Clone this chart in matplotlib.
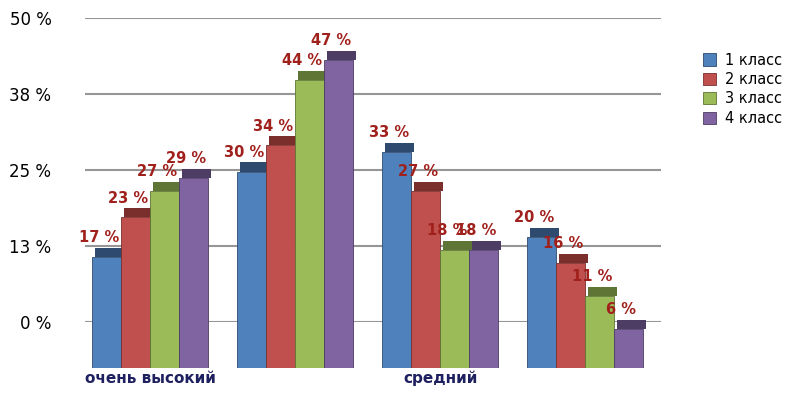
import matplotlib.pyplot as plt
import numpy as np

categories = ["очень высокий", "", "средний", ""]
series_names = ["1 класс", "2 класс", "3 класс", "4 класс"]
values = [
    [17, 30, 33, 20],
    [23, 34, 27, 16],
    [27, 44, 18, 11],
    [29, 47, 18, 6],
]
wall_ticks = [0, 12.5, 25, 37.5, 50]
wall_labels = ["0 %", "13 %", "25 %", "38 %", "50 %"]

colors = ["#4F81BD", "#C0504D", "#9BBB59", "#8064A2"]
tops = ["#2E4A6E", "#7A2F2D", "#5E7535", "#4D3C63"]
label_color = "#A0201C"

fig = plt.figure(figsize=(8, 3.94), dpi=100)

# back wall with gridlines (perspective: sits higher than the bars)
wall = fig.add_axes([0.106, 0.183, 0.72, 0.771])
wall.set_ylim(0, 50)
wall.set_xlim(0, 1)
wall.set_yticks(wall_ticks)
wall.set_yticklabels(wall_labels, fontsize=12)
wall.set_xticks([])
wall.tick_params(axis="y", length=0, pad=24)
wall.grid(axis="y", color="#969696", linewidth=1.5)
for s in wall.spines.values():
    s.set_visible(False)

# bars in front
ax = fig.add_axes([0.097, 0.066, 0.725, 0.831])
ax.patch.set_alpha(0)
ax.set_xlim(-0.5, 3.5)
ax.set_ylim(0, 50)
ax.set_yticks([])
for s in ax.spines.values():
    s.set_visible(False)

x = np.arange(len(categories))
w = 0.2
for i, (name, vals) in enumerate(zip(series_names, values)):
    xs = x + (i - 1.5) * w
    ax.bar(xs, vals, w, color=colors[i], edgecolor=tops[i], linewidth=0.6,
           label=name, zorder=2 + i)
    ax.bar(xs + 0.02, [1.4] * len(vals), w, bottom=vals, color=tops[i],
           linewidth=0, zorder=2 + i)
    for xi, v in zip(xs, vals):
        ax.text(xi - 0.05, v + 1.8, f"{v} %", ha="center", va="bottom",
                color=label_color, fontsize=10.5, fontweight="bold", zorder=10)

ax.set_xticks(x)
ax.set_xticklabels(categories, fontsize=11, fontweight="bold", color="#1F2060")
ax.tick_params(axis="x", length=0, pad=2)

handles, labels = ax.get_legend_handles_labels()
fig.legend(handles, labels, loc="upper left", bbox_to_anchor=(0.862, 0.9),
           frameon=False, fontsize=10.5, handlelength=0.9, handleheight=0.9,
           labelspacing=0.3, handletextpad=0.6)

fig.savefig("out.png", dpi=100)
